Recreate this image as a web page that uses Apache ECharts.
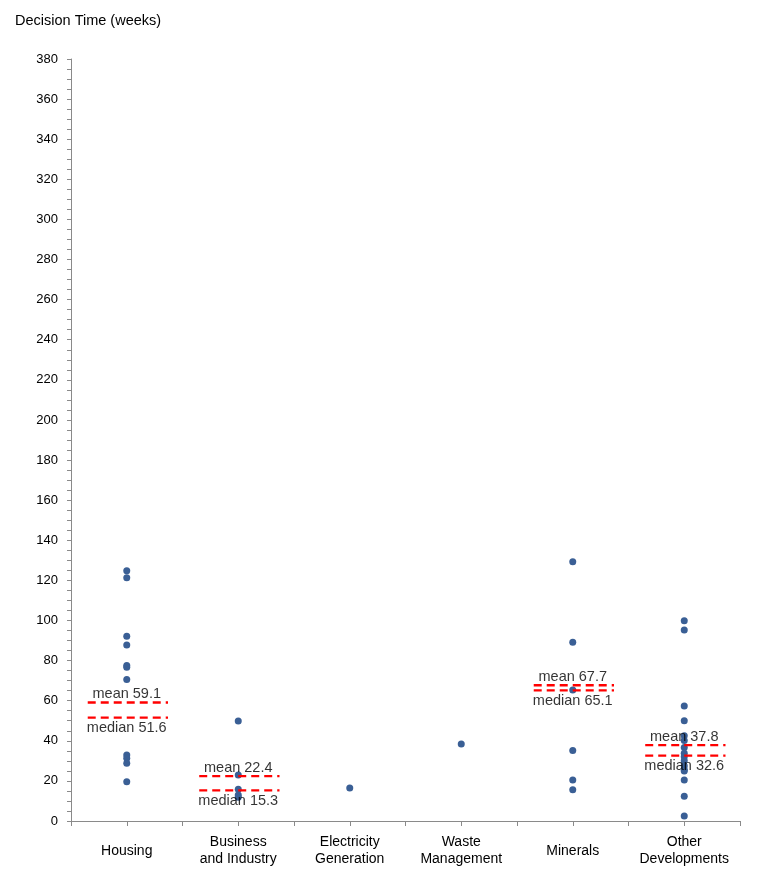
<!DOCTYPE html>
<html>
<head>
<meta charset="utf-8">
<title>Decision Time</title>
<script src="https://cdn.jsdelivr.net/npm/echarts@6/dist/echarts.min.js"></script>
<style>
  html, body { margin: 0; padding: 0; background: #fff; }
  #chart { width: 760px; height: 890px; }
</style>
</head>
<body>
<div id="chart"></div>
<script>
// categories along the bottom
const categories = ['Housing', 'Business\nand Industry', 'Electricity\nGeneration', 'Waste\nManagement', 'Minerals', 'Other\nDevelopments']

// decision times, one list per category
const housing = [124.8, 121.3, 92.1, 87.8, 77.5, 76.7, 70.6, 32.9, 31.3, 28.8, 19.6]
const business = [49.9, 22.9, 15.8, 13.0, 11.8]
const electricity = [16.5]
const waste = [38.4]
const minerals = [129.3, 89.1, 65.3, 35.1, 20.4, 15.6]
const other = [99.9, 95.3, 57.4, 50.0, 42.5, 40.1, 36.6, 33.8, 32.0, 30.1, 27.4, 25.5, 24.9, 20.4, 12.3, 2.5]

// mean / median per category (null = not shown)
const means = [59.1, 22.4, null, null, 67.7, 37.8]
const medians = [51.6, 15.3, null, null, 65.1, 32.6]

// y axis
const yMin = 0
const yMax = 380
const yStep = 20

const groups = [housing, business, electricity, waste, minerals, other]

const points = []
groups.forEach(function (vals, i) {
  vals.forEach(function (v) { points.push([i, v]) })
})

const font = 'Arial, "Liberation Sans", sans-serif'
const red = '#ff0000'

const series = [{
  type: 'scatter',
  xAxisIndex: 0,
  data: points,
  symbolSize: 7,
  itemStyle: { color: '#3a5f95', opacity: 1 },
  z: 3
}]

// dashed mean / median lines, spanning most of the category slot
function statLine(vals, name, pos, dist) {
  vals.forEach(function (v, i) {
    if (v === null) return
    series.push({
      type: 'line',
      xAxisIndex: 1,
      data: [[i + 0.15, v], [i + 0.87, v]],
      symbol: 'none',
      silent: true,
      lineStyle: { color: red, width: 2.3, type: [8, 5] },
      z: 4
    })
    series.push({
      type: 'scatter',
      xAxisIndex: 1,
      data: [[i + 0.5, v]],
      symbolSize: 0,
      silent: true,
      label: {
        show: true,
        position: pos,
        distance: dist,
        formatter: name + ' ' + v.toFixed(1),
        color: '#000',
        fontSize: 14.5,
        fontFamily: font
      },
      z: 5
    })
  })
}
statLine(means, 'mean', 'top', 1)
statLine(medians, 'median', 'bottom', 3)

const chart = echarts.init(document.getElementById('chart'))

chart.setOption({
  animation: false,
  backgroundColor: '#fff',
  title: {
    text: 'Decision Time (weeks)',
    left: 10,
    top: 8,
    textStyle: { fontSize: 14.5, fontWeight: 'normal', color: '#000', fontFamily: font }
  },
  grid: { left: 71, right: 20, top: 59, bottom: 69 },
  xAxis: [{
    type: 'category',
    data: categories,
    boundaryGap: true,
    axisLine: { show: false },
    axisTick: { show: false },
    axisLabel: {
      interval: 0,
      color: '#000',
      fontSize: 14,
      fontFamily: font,
      lineHeight: 17,
      verticalAlign: 'middle',
      margin: 30
    }
  }, {
    type: 'value',
    min: 0,
    max: categories.length,
    interval: 0.5,
    position: 'bottom',
    axisLine: { show: true, lineStyle: { color: '#8a8a8a', width: 1 } },
    axisTick: { show: true, length: 5, lineStyle: { color: '#8a8a8a' } },
    axisLabel: { show: false },
    splitLine: { show: false }
  }],
  yAxis: {
    type: 'value',
    min: yMin,
    max: yMax,
    interval: yStep,
    axisLine: { show: true, lineStyle: { color: '#8a8a8a', width: 1 } },
    axisTick: { show: true, length: 4, lineStyle: { color: '#8a8a8a' } },
    minorTick: { show: true, splitNumber: 4, length: 4, lineStyle: { color: '#8a8a8a' } },
    splitLine: { show: false },
    axisLabel: { color: '#000', fontSize: 13, fontFamily: font, margin: 13 }
  },
  series: series
})
</script>
</body>
</html>
